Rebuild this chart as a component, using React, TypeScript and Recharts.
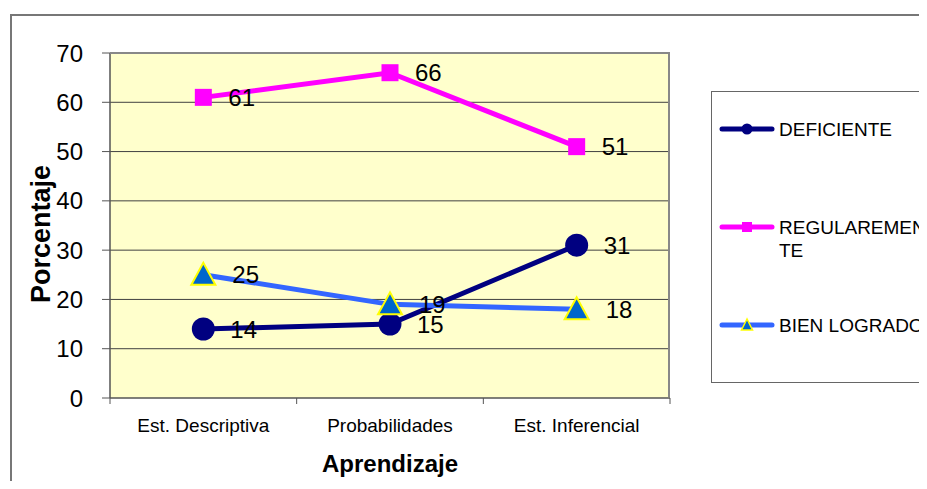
import React from 'react';
import { LineChart, Line, XAxis, YAxis, CartesianGrid } from 'recharts';

const categories = ['Est. Descriptiva', 'Probabilidades', 'Est. Inferencial'];
const deficiente = [14, 15, 31];
const regularmente = [61, 66, 51];
const bienLogrado = [25, 19, 18];
const yTicks = [0, 10, 20, 30, 40, 50, 60, 70];

const data = categories.map((c, i) => ({
  cat: c,
  DEFICIENTE: deficiente[i],
  REGULAREMENTE: regularmente[i],
  'BIEN LOGRADO': bienLogrado[i],
}));

const FONT = 'Arial, "Liberation Sans", sans-serif';
const W = 927;
const H = 489;
const PLOT = { left: 110, top: 53, width: 560, height: 345 };
const BAND = PLOT.width / categories.length;

const CircleDot = (p: any) => <circle cx={p.cx} cy={p.cy} r={11.5} fill="#000080" />;
const SquareDot = (p: any) => <rect x={p.cx - 8.5} y={p.cy - 8.5} width={17} height={17} fill="#FF00FF" />;
const TriDot = (p: any) => (
  <polygon
    points={`${p.cx},${p.cy - 12} ${p.cx - 12},${p.cy + 10} ${p.cx + 12},${p.cy + 10}`}
    fill="#0066CC"
    stroke="#FFFF00"
    strokeWidth={2}
  />
);

const valueLabel = (dx: number) => (p: any) => (
  <text x={p.x + dx} y={p.y} dominantBaseline="central" fontSize={24} fontFamily={FONT} fill="#000">
    {p.value}
  </text>
);

const XTick = (p: any) => {
  const bottom = PLOT.top + PLOT.height;
  return (
    <g>
      <line x1={p.x - BAND / 2} x2={p.x - BAND / 2} y1={bottom} y2={bottom + 6} stroke="#555" />
      {p.index === categories.length - 1 && (
        <line x1={p.x + BAND / 2} x2={p.x + BAND / 2} y1={bottom} y2={bottom + 6} stroke="#555" />
      )}
      <text x={p.x} y={bottom + 27} textAnchor="middle" dominantBaseline="central" fontSize={19} fontFamily={FONT} fill="#000">
        {p.payload.value}
      </text>
    </g>
  );
};

const legendItems = [
  { name: 'DEFICIENTE', color: '#000080', marker: 'circle', top: 37 },
  { name: 'REGULAREMENTE', color: '#FF00FF', marker: 'square', top: 135 },
  { name: 'BIEN LOGRADO', color: '#3366FF', marker: 'tri', top: 233 },
];

const LegendMarker = ({ color, marker }: { color: string; marker: string }) => (
  <svg width={56} height={16} style={{ position: 'absolute', left: 7, top: -8 }}>
    <line x1={3} x2={53} y1={8} y2={8} stroke={color} strokeWidth={5} strokeLinecap="round" />
    {marker === 'circle' && <circle cx={28} cy={8} r={5.5} fill="#000080" />}
    {marker === 'square' && <rect x={23} y={3} width={10} height={10} fill="#FF00FF" />}
    {marker === 'tri' && <polygon points="28,2 22.5,13 33.5,13" fill="#0066CC" stroke="#FFFF00" strokeWidth={1.5} />}
  </svg>
);

export default function App() {
  return (
    <div
      style={{
        position: 'relative',
        width: W,
        height: H,
        overflow: 'hidden',
        background: '#fff',
        margin: -8,
      }}
    >
      <div
        style={{
          position: 'absolute',
          left: 10,
          top: 14,
          width: W + 20,
          height: H + 20,
          border: '2px solid #777',
          boxSizing: 'border-box',
        }}
      />
      <LineChart
        width={W}
        height={H}
        data={data}
        margin={{ top: PLOT.top, left: PLOT.left - 70, right: W - PLOT.left - PLOT.width, bottom: H - PLOT.top - PLOT.height - 60 }}
        style={{ position: 'absolute', left: 0, top: 0 }}
      >
        <CartesianGrid vertical={false} fill="#FFFFCC" stroke="#404040" horizontalValues={[10, 20, 30, 40, 50, 60]} />
        <XAxis
          dataKey="cat"
          height={60}
          padding={{ left: BAND / 2, right: BAND / 2 }}
          axisLine={{ stroke: '#555', strokeWidth: 1.5 }}
          tickLine={false}
          tick={<XTick />}
          interval={0}
          label={{
            content: () => (
              <text
                x={PLOT.left + PLOT.width / 2}
                y={PLOT.top + PLOT.height + 65}
                textAnchor="middle"
                dominantBaseline="central"
                fontSize={24}
                fontWeight="bold"
                fontFamily={FONT}
                fill="#000"
              >
                Aprendizaje
              </text>
            ),
          }}
        />
        <YAxis
          width={70}
          domain={[0, 70]}
          ticks={yTicks}
          interval={0}
          axisLine={{ stroke: '#555', strokeWidth: 1.5 }}
          tickLine={{ stroke: '#555' }}
          tickSize={8}
          tickMargin={19}
          tick={{ fontSize: 24, fontFamily: FONT, fill: '#000' }}
          label={{
            content: () => (
              <text
                x={41}
                y={234}
                transform="rotate(-90 41 234)"
                textAnchor="middle"
                dominantBaseline="central"
                fontSize={27}
                fontWeight="bold"
                fontFamily={FONT}
                fill="#000"
              >
                Porcentaje
              </text>
            ),
          }}
        />
        <Line
          dataKey="DEFICIENTE"
          stroke="#000080"
          strokeWidth={5}
          dot={<CircleDot />}
          label={valueLabel(27)}
          isAnimationActive={false}
        />
        <Line
          dataKey="REGULAREMENTE"
          stroke="#FF00FF"
          strokeWidth={5}
          dot={<SquareDot />}
          label={valueLabel(25)}
          isAnimationActive={false}
        />
        <Line
          dataKey="BIEN LOGRADO"
          stroke="#3366FF"
          strokeWidth={5}
          dot={<TriDot />}
          label={valueLabel(29)}
          isAnimationActive={false}
        />
      </LineChart>
      <div
        style={{
          position: 'absolute',
          left: PLOT.left,
          top: PLOT.top,
          width: PLOT.width,
          height: PLOT.height,
          borderTop: '2px solid #888',
          borderRight: '2px solid #888',
          boxSizing: 'border-box',
          pointerEvents: 'none',
          marginTop: -1,
        }}
      />
      <div
        style={{
          position: 'absolute',
          left: 711,
          top: 91,
          width: 260,
          height: 292,
          border: '1px solid #666',
          boxSizing: 'border-box',
          fontFamily: FONT,
          fontSize: 19,
          color: '#000',
        }}
      >
        {legendItems.map((it) => (
          <div key={it.name} style={{ position: 'absolute', left: 0, top: it.top }}>
            <LegendMarker color={it.color} marker={it.marker} />
            <div
              style={{
                position: 'absolute',
                left: 67,
                top: -11,
                width: 150,
                wordBreak: 'break-all',
                lineHeight: '23px',
              }}
            >
              {it.name}
            </div>
          </div>
        ))}
      </div>
    </div>
  );
}
